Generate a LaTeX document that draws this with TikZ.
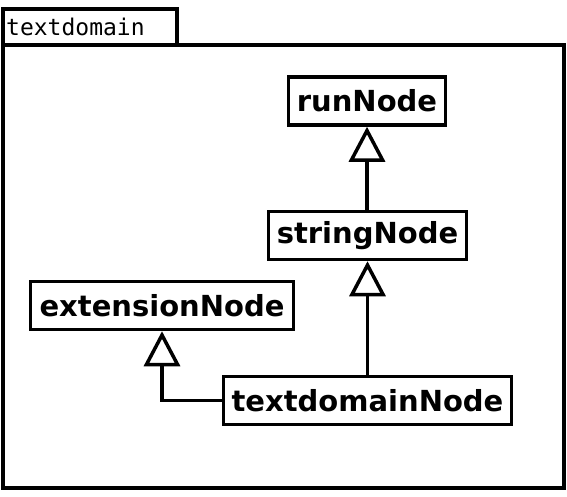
\documentclass[tikz,border=0pt]{standalone}
\usepackage{fontspec}
\newfontfamily\nodefont{DejaVu Sans}
\newfontfamily\tabfont{DejaVu Sans Mono}
\usetikzlibrary{arrows.meta}
\begin{document}
\begin{tikzpicture}[x=1pt,y=-1pt,
  cls/.style={draw, line width=3.5pt, minimum height=48pt, inner sep=0pt,
    font=\nodefont\bfseries\fontsize{29}{34}\selectfont},
  inh/.style={line width=3.5pt, -{Triangle[open,length=35pt,width=36pt]}}]
\useasboundingbox (0,0) rectangle (567,496);
\draw[line width=3.5pt] (3,45) rectangle (564,488);
\draw[line width=3.5pt] (3,9) rectangle (177,45);
\node[anchor=base west, inner sep=0pt, font=\tabfont\fontsize{23}{27}\selectfont] (tab) at (6,35) {textdomain};
\node[cls, minimum width=157pt] (run) at (367,101) {runNode};
\node[cls, minimum width=198pt] (str) at (367.5,235.5) {stringNode};
\node[cls, minimum width=263pt] (ext) at (162,305.5) {extensionNode};
\node[cls, minimum width=288pt] (td) at (367.5,400.5) {textdomainNode};
\draw[inh] (str.north -| run.south) -- (run.south);
\draw[inh] (td.north -| str.south) -- (str.south);
\draw[inh] (td.west) -| (ext.south);
\end{tikzpicture}
\end{document}
